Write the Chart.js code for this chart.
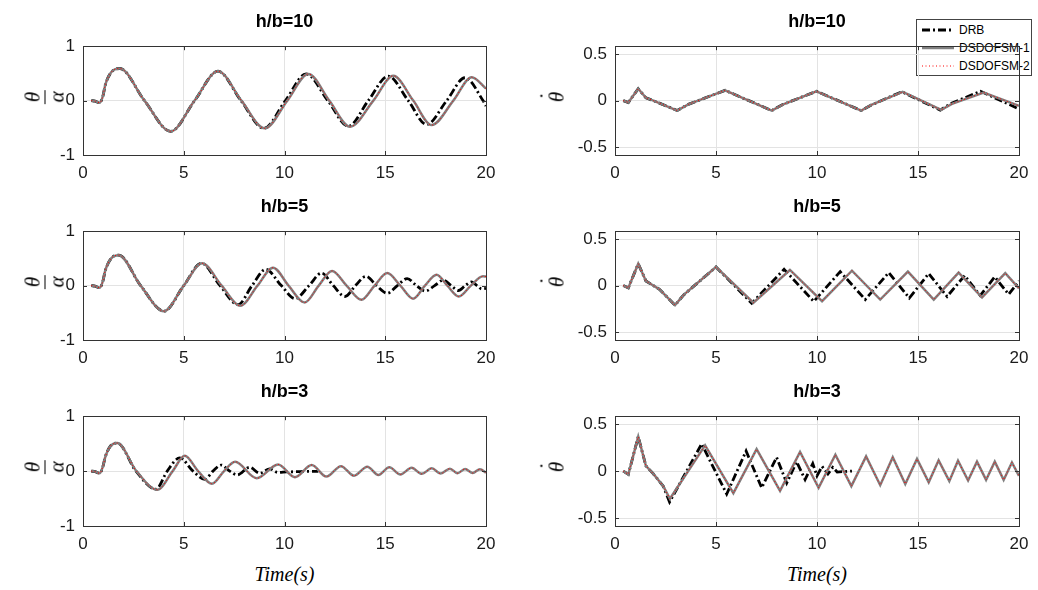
<!DOCTYPE html>
<html>
<head>
<meta charset="utf-8">
<script src="https://cdn.jsdelivr.net/npm/chart.js@4.4.1/dist/chart.umd.min.js"></script>
<style>
  body { margin: 0; width: 1038px; height: 590px; background: #fff; position: relative; overflow: hidden;
         font-family: 'Liberation Sans', Arial, sans-serif; color: #000; }
  canvas { position: absolute; }
  .title { position: absolute; font-weight: bold; font-size: 18px; transform: translateX(-50%); white-space: nowrap; }
  .ylab { position: absolute; transform: translate(-50%, -50%) rotate(-90deg); font-family: 'Liberation Serif', serif;
          font-style: italic; font-size: 21px; line-height: 1; white-space: nowrap; }
  .frac { display: inline-flex; flex-direction: column; align-items: center; }
  .frac .num { border-bottom: 1px solid #000; padding: 0 2px 1px; }
  .frac .den { padding-top: 1px; }
  .dotted { position: relative; display: inline-block; }
  .dotted .dot { position: absolute; left: 50%; top: -0.45em; transform: translateX(-35%); font-style: normal; }
  .xlab { position: absolute; transform: translateX(-50%); font-family: 'Liberation Serif', serif; font-style: italic; font-size: 20px; }
  #legend { position: absolute; left: 916px; top: 19px; width: 116px; height: 57px; background: #fff;
            border: 1px solid #444; box-sizing: border-box; font-size: 12px; }
  .leg-row { position: absolute; left: 4px; height: 14px; display: flex; align-items: center; }
  .leg-row svg { margin-right: 4px; }
</style>
</head>
<body>
<div id="legend"></div>
<script>
// --- Data ---
const timeTicks = [0, 5, 10, 15, 20];
const ratioTicks = [-1, 0, 1];
const rateTicks = [-0.5, 0, 0.5];
const titles = ['h/b=10', 'h/b=5', 'h/b=3'];
const seriesNames = ['DRB', 'DSDOFSM-1', 'DSDOFSM-2'];

// theta/alpha, h/b=10
const tRatio10Sm = [0.41, 0.6, 0.83, 1.0, 1.1, 1.4, 1.82, 3.05, 4.35, 5.54, 6.70, 7.86, 9.02, 10.14, 11.18, 12.22, 13.25, 14.41, 15.40, 16.39, 17.30, 18.38, 19.29, 20.0];
const yRatio10Sm = [0, -0.01, -0.04, 0.1, 0.28, 0.52, 0.59, 0, -0.565, 0, 0.54, 0, -0.51, 0, 0.49, 0, -0.48, 0, 0.456, 0, -0.45, 0, 0.43, 0.22];
const tRatio10Drb = [0.41, 0.6, 0.83, 1.0, 1.1, 1.4, 1.82, 3.05, 4.35, 5.54, 6.70, 7.84, 8.97, 10.05, 11.07, 12.15, 13.17, 14.16, 15.15, 16.14, 17.05, 18.05, 18.96, 19.85, 20.0];
const yRatio10Drb = [0, -0.01, -0.04, 0.1, 0.28, 0.52, 0.59, 0, -0.565, 0, 0.54, 0, -0.51, 0, 0.49, 0, -0.47, 0, 0.45, 0, -0.44, 0, 0.42, 0, -0.1];

// theta/alpha, h/b=5
const tRatio5Sm = [0.41, 0.6, 0.83, 1.0, 1.1, 1.4, 1.77, 2.86, 4.02, 5.0, 5.91, 6.88, 7.81, 8.66, 9.43, 10.2, 11.0, 11.7, 12.36, 13.08, 13.82, 14.47, 15.1, 15.75, 16.38, 16.97, 17.55, 18.08, 18.65, 19.25, 19.85, 20.0];
const yRatio5Sm = [0, -0.01, -0.04, 0.1, 0.27, 0.5, 0.56, 0, -0.47, 0, 0.41, 0, -0.37, 0, 0.33, 0, -0.31, 0, 0.27, 0, -0.26, 0, 0.23, 0, -0.24, 0, 0.2, 0, -0.2, 0, 0.17, 0.165];
const tRatio5Drb = [0.41, 0.6, 0.83, 1.0, 1.1, 1.4, 1.77, 2.86, 4.02, 5.0, 5.88, 6.8, 7.69, 8.39, 9.07, 9.84, 10.52, 11.22, 11.84, 12.42, 13.0, 13.52, 14.04, 14.57, 15.1, 15.6, 16.09, 16.55, 17.0, 17.45, 17.88, 18.27, 18.63, 18.97, 19.29, 19.55, 19.79, 20.0];
const yRatio5Drb = [0, -0.01, -0.04, 0.1, 0.27, 0.5, 0.56, 0, -0.47, 0, 0.41, 0, -0.35, 0, 0.30, 0, -0.24, 0, 0.23, 0, -0.2, 0, 0.17, 0, -0.14, 0, 0.13, 0, -0.1, 0, 0.1, 0, -0.09, 0, 0.07, 0, -0.06, -0.05];

// theta/alpha, h/b=3
const tRatio3Sm = [0.41, 0.6, 0.83, 1.0, 1.1, 1.35, 1.70, 2.65, 3.69, 4.45, 5.05, 5.71, 6.40, 7.0, 7.55, 8.62, 9.68, 10.52, 11.35, 12.08, 12.80, 13.45, 14.11, 14.66, 15.20, 15.75, 16.31, 16.81, 17.31, 17.75, 18.21, 18.58, 18.96, 19.34, 19.70, 20.0];
const yRatio3Sm = [0, -0.01, -0.04, 0.1, 0.25, 0.45, 0.51, 0, -0.34, 0, 0.28, 0, -0.23, 0, 0.17, -0.13, 0.12, -0.11, 0.11, -0.1, 0.09, -0.085, 0.08, -0.07, 0.07, -0.06, 0.06, -0.05, 0.05, -0.045, 0.045, -0.04, 0.04, -0.035, 0.035, -0.03];
const tRatio3Drb = [0.41, 0.6, 0.83, 1.0, 1.1, 1.35, 1.70, 2.63, 3.62, 4.18, 4.80, 5.46, 6.04, 6.45, 6.86, 7.28, 7.66, 8.27, 8.77, 9.27, 9.68, 10.1, 10.6, 11.1, 11.68];
const yRatio3Drb = [0, -0.01, -0.04, 0.1, 0.25, 0.45, 0.51, 0, -0.33, 0, 0.24, 0, -0.15, 0, 0.11, 0, -0.07, 0.07, -0.04, 0.04, -0.025, -0.015, -0.01, -0.005, -0.005];

// theta-dot, h/b=10
const tRate10Sm = [0.41, 0.66, 1.15, 1.53, 1.9, 3.08, 3.63, 5.45, 7.76, 8.33, 9.97, 12.19, 12.69, 14.24, 16.15, 16.68, 18.25, 20.0];
const yRate10Sm = [0, -0.02, 0.127, 0.03, 0.0, -0.107, -0.04, 0.11, -0.107, -0.04, 0.1, -0.107, -0.047, 0.093, -0.1, -0.035, 0.087, -0.057];
const tRate10Drb = [0.41, 0.66, 1.15, 1.53, 1.9, 3.08, 3.63, 5.45, 7.76, 8.33, 9.97, 12.19, 12.69, 14.2, 16.1, 16.6, 18.09, 20.0];
const yRate10Drb = [0, -0.02, 0.127, 0.03, 0.0, -0.107, -0.04, 0.11, -0.107, -0.04, 0.1, -0.107, -0.047, 0.095, -0.102, -0.035, 0.1, -0.09];

// theta-dot, h/b=5
const tRate5Sm = [0.41, 0.66, 1.15, 1.53, 2.2, 2.97, 3.4, 5.0, 6.85, 8.66, 10.25, 11.73, 13.13, 14.5, 15.78, 17.01, 18.17, 19.32, 20.0];
const yRate5Sm = [0, -0.025, 0.235, 0.05, -0.04, -0.21, -0.1, 0.2, -0.184, 0.168, -0.167, 0.16, -0.15, 0.15, -0.15, 0.14, -0.127, 0.134, -0.03];
const tRate5Drb = [0.41, 0.66, 1.15, 1.53, 2.2, 2.97, 3.4, 5.0, 6.77, 8.37, 9.84, 11.15, 12.39, 13.55, 14.57, 15.53, 16.44, 17.31, 18.08, 18.8, 19.49, 20.0];
const yRate5Drb = [0, -0.025, 0.235, 0.05, -0.04, -0.21, -0.1, 0.2, -0.19, 0.175, -0.17, 0.15, -0.15, 0.14, -0.134, 0.13, -0.117, 0.108, -0.107, 0.094, -0.094, 0.05];

// theta-dot, h/b=3
const tRate3Sm = [0.41, 0.66, 1.15, 1.53, 1.90, 2.39, 2.72, 4.46, 5.86, 7.01, 8.17, 9.16, 10.08, 10.91, 11.7, 12.43, 13.13, 13.75, 14.37, 14.95, 15.53, 16.02, 16.55, 16.98, 17.48, 17.92, 18.37, 18.8, 19.24, 19.65, 20.0];
const yRate3Sm = [0, -0.035, 0.367, 0.056, -0.03, -0.16, -0.295, 0.274, -0.235, 0.234, -0.21, 0.204, -0.178, 0.174, -0.16, 0.157, -0.15, 0.147, -0.137, 0.13, -0.12, 0.115, -0.107, 0.11, -0.1, 0.1, -0.094, 0.1, -0.094, 0.092, -0.05];
const tRate3Drb = [0.41, 0.66, 1.15, 1.53, 1.90, 2.39, 2.70, 4.29, 5.53, 6.49, 7.26, 8.0, 8.50, 8.99, 9.41, 9.79, 10.0, 10.25, 10.54, 10.78, 11.0, 11.73];
const yRate3Drb = [0, -0.035, 0.367, 0.056, -0.03, -0.16, -0.33, 0.29, -0.245, 0.214, -0.178, 0.147, -0.127, 0.10, -0.09, 0.08, -0.05, 0.05, -0.03, 0.04, -0.01, 0.0];

// --- Layout ---
const cols = [{ left: 83, width: 403, ylab: 45 }, { left: 615, width: 404, ylab: 557 }];
const rows = [{ top: 38, height: 117 }, { top: 223, height: 117 }, { top: 408, height: 118 }];
const PAD_L = 50, PAD_T = 10, PAD_R = 18, PAD_B = 28;

const toPts = (t, y) => t.map((v, i) => ({ x: v, y: y[i] }));

const panels = [
    { row: 0, col: 0, sm: [tRatio10Sm, yRatio10Sm], drb: [tRatio10Drb, yRatio10Drb] },
    { row: 1, col: 0, sm: [tRatio5Sm, yRatio5Sm], drb: [tRatio5Drb, yRatio5Drb] },
    { row: 2, col: 0, sm: [tRatio3Sm, yRatio3Sm], drb: [tRatio3Drb, yRatio3Drb] },
    { row: 0, col: 1, sm: [tRate10Sm, yRate10Sm], drb: [tRate10Drb, yRate10Drb] },
    { row: 1, col: 1, sm: [tRate5Sm, yRate5Sm], drb: [tRate5Drb, yRate5Drb] },
    { row: 2, col: 1, sm: [tRate3Sm, yRate3Sm], drb: [tRate3Drb, yRate3Drb] },
];

// Draws the MATLAB-style box and inward tick marks
const boxPlugin = {
    id: 'box',
    afterDatasetsDraw(chart) {
        const { ctx, chartArea: a, scales } = chart;
        ctx.save();
        ctx.strokeStyle = '#333';
        ctx.lineWidth = 1;
        ctx.beginPath();
        scales.x.ticks.forEach(tk => {
            const px = Math.round(scales.x.getPixelForValue(tk.value)) + 0.5;
            ctx.moveTo(px, a.bottom); ctx.lineTo(px, a.bottom - 4);
            ctx.moveTo(px, a.top); ctx.lineTo(px, a.top + 4);
        });
        scales.y.ticks.forEach(tk => {
            const py = Math.round(scales.y.getPixelForValue(tk.value)) + 0.5;
            ctx.moveTo(a.left, py); ctx.lineTo(a.left + 4, py);
            ctx.moveTo(a.right, py); ctx.lineTo(a.right - 4, py);
        });
        ctx.stroke();
        ctx.strokeRect(Math.round(a.left) + 0.5, Math.round(a.top) + 0.5,
            Math.round(a.right - a.left), Math.round(a.bottom - a.top));
        ctx.restore();
    }
};

function lineSet(label, pts, color, width, dash, order, smooth) {
    return {
        label, data: pts, borderColor: color, borderWidth: width, borderDash: dash,
        order, pointRadius: 0, fill: false,
        cubicInterpolationMode: smooth ? 'monotone' : 'default', tension: 0
    };
}

panels.forEach(p => {
    const c = cols[p.col], r = rows[p.row];
    const canvas = document.createElement('canvas');
    canvas.width = c.width + PAD_L + PAD_R;
    canvas.height = r.height + PAD_T + PAD_B;
    canvas.style.left = (c.left - PAD_L) + 'px';
    canvas.style.top = (r.top - PAD_T) + 'px';
    document.body.appendChild(canvas);

    const smooth = p.col === 0;
    const yTicks = smooth ? ratioTicks : rateTicks;
    const yLim = smooth ? 1 : 0.585;
    const smPts = toPts(p.sm[0], p.sm[1]);
    const tickFont = { family: "'Liberation Sans', Arial", size: 17 };

    new Chart(canvas, {
        type: 'line',
        data: {
            datasets: [
                lineSet(seriesNames[0], toPts(p.drb[0], p.drb[1]), '#000000', 2.8, [8, 3, 2, 3], 3, smooth),
                lineSet(seriesNames[1], smPts, '#808080', 2.5, [], 2, smooth),
                lineSet(seriesNames[2], smPts, '#ff0000', 1, [1, 2.5], 1, smooth)
            ]
        },
        options: {
            responsive: false,
            animation: false,
            layout: { padding: { top: PAD_T, right: PAD_R, left: 0, bottom: 0 } },
            plugins: { legend: { display: false }, tooltip: { enabled: false } },
            scales: {
                x: {
                    type: 'linear', min: 0, max: 20,
                    afterBuildTicks: s => { s.ticks = timeTicks.map(v => ({ value: v })); },
                    afterFit: s => { s.height = PAD_B; },
                    grid: { color: '#e3e3e3', drawTicks: false },
                    border: { display: false },
                    ticks: { padding: 8, color: '#1a1a1a', maxRotation: 0, font: tickFont }
                },
                y: {
                    min: -yLim, max: yLim,
                    afterBuildTicks: s => { s.ticks = yTicks.map(v => ({ value: v })); },
                    afterFit: s => { s.width = PAD_L; },
                    grid: { color: '#e3e3e3', drawTicks: false },
                    border: { display: false },
                    ticks: { padding: 8, color: '#1a1a1a', font: tickFont, callback: v => String(v) }
                }
            }
        },
        plugins: [boxPlugin]
    });

    // title
    const t = document.createElement('div');
    t.className = 'title';
    t.textContent = titles[p.row];
    t.style.left = (c.left + c.width / 2) + 'px';
    t.style.top = (r.top - 27) + 'px';
    document.body.appendChild(t);

    // y label
    const yl = document.createElement('div');
    yl.className = 'ylab';
    yl.style.left = c.ylab + 'px';
    yl.style.top = (r.top + r.height / 2) + 'px';
    if (smooth) {
        yl.innerHTML = '<span class="frac"><span class="num">θ</span><span class="den">α</span></span>';
    } else {
        yl.innerHTML = '<span class="dotted">θ<span class="dot">˙</span></span>';
    }
    document.body.appendChild(yl);

    // x label on the bottom row
    if (p.row === 2) {
        const xl = document.createElement('div');
        xl.className = 'xlab';
        xl.textContent = 'Time(s)';
        xl.style.left = (c.left + c.width / 2) + 'px';
        xl.style.top = (r.top + r.height + 37) + 'px';
        document.body.appendChild(xl);
    }
});

// --- Legend ---
const legendEl = document.getElementById('legend');
const legendStyles = [
    { color: '#000', width: 2.8, dash: '8 3 2 3' },
    { color: '#808080', width: 2.5, dash: '' },
    { color: '#ff0000', width: 1, dash: '1 2.5' }
];
seriesNames.forEach((name, i) => {
    const row = document.createElement('div');
    row.className = 'leg-row';
    row.style.top = (3 + i * 18) + 'px';
    const s = legendStyles[i];
    row.innerHTML = `<svg width="34" height="10"><line x1="1" y1="5" x2="33" y2="5" stroke="${s.color}" stroke-width="${s.width}" stroke-dasharray="${s.dash}"/></svg>${name}`;
    legendEl.appendChild(row);
});
</script>
</body>
</html>
